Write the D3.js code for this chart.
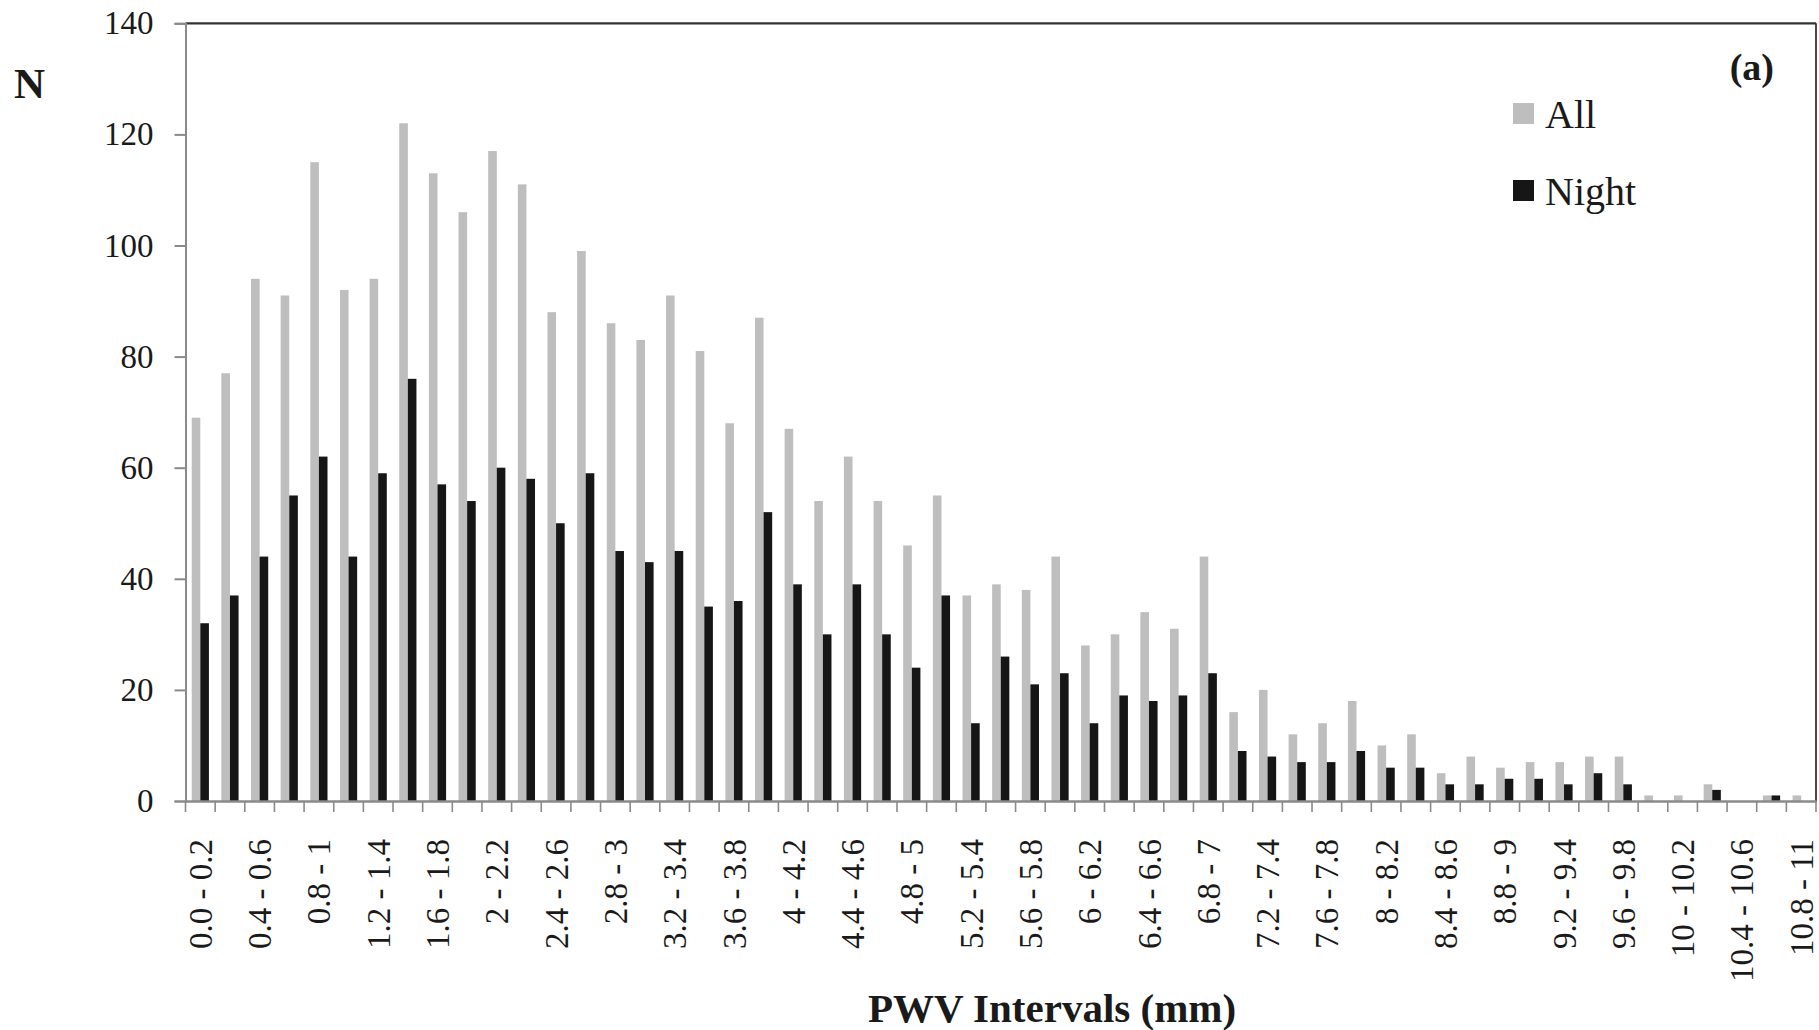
<!DOCTYPE html>
<html>
<head>
<meta charset="utf-8">
<script src="https://cdn.jsdelivr.net/npm/d3@7"></script>
<style>
  html, body { margin: 0; padding: 0; background: #fff; }
  svg { display: block; }
  text { font-family: "Liberation Serif", "Times New Roman", serif; fill: #1a1a1a; }
</style>
</head>
<body>
<svg id="chart" width="1819" height="1030"></svg>
<script>
// PWV interval bins (mm)
const categories = [
  "0.0 - 0.2", "0.2 - 0.4", "0.4 - 0.6", "0.6 - 0.8", "0.8 - 1",
  "1 - 1.2", "1.2 - 1.4", "1.4 - 1.6", "1.6 - 1.8", "1.8 - 2",
  "2 - 2.2", "2.2 - 2.4", "2.4 - 2.6", "2.6 - 2.8", "2.8 - 3",
  "3 - 3.2", "3.2 - 3.4", "3.4 - 3.6", "3.6 - 3.8", "3.8 - 4",
  "4 - 4.2", "4.2 - 4.4", "4.4 - 4.6", "4.6 - 4.8", "4.8 - 5",
  "5 - 5.2", "5.2 - 5.4", "5.4 - 5.6", "5.6 - 5.8", "5.8 - 6",
  "6 - 6.2", "6.2 - 6.4", "6.4 - 6.6", "6.6 - 6.8", "6.8 - 7",
  "7 - 7.2", "7.2 - 7.4", "7.4 - 7.6", "7.6 - 7.8", "7.8 - 8",
  "8 - 8.2", "8.2 - 8.4", "8.4 - 8.6", "8.6 - 8.8", "8.8 - 9",
  "9 - 9.2", "9.2 - 9.4", "9.4 - 9.6", "9.6 - 9.8", "9.8 - 10",
  "10 - 10.2", "10.2 - 10.4", "10.4 - 10.6", "10.6 - 10.8", "10.8 - 11"
];

// Number of measurements per bin
const allValues = [
  69, 77, 94, 91, 115, 92, 94, 122, 113, 106,
  117, 111, 88, 99, 86, 83, 91, 81, 68, 87,
  67, 54, 62, 54, 46, 55, 37, 39, 38, 44,
  28, 30, 34, 31, 44, 16, 20, 12, 14, 18,
  10, 12, 5, 8, 6, 7, 7, 8, 8, 1,
  1, 3, 0, 1, 1
];
const nightValues = [
  32, 37, 44, 55, 62, 44, 59, 76, 57, 54,
  60, 58, 50, 59, 45, 43, 45, 35, 36, 52,
  39, 30, 39, 30, 24, 37, 14, 26, 21, 23,
  14, 19, 18, 19, 23, 9, 8, 7, 7, 9,
  6, 6, 3, 3, 4, 4, 3, 5, 3, 0,
  0, 2, 0, 1, 0
];

const seriesNames = ["All", "Night"];
const seriesColors = ["#bdbebd", "#161616"];
const yTicks = [0, 20, 40, 60, 80, 100, 120, 140];

const svg = d3.select("#chart");
const plotLeft = 185.5, plotRight = 1816, plotTop = 23.3, plotBottom = 801;

const x = d3.scaleBand()
  .domain(categories)
  .range([plotLeft, plotRight])
  .paddingInner(0.42)
  .paddingOuter(0.21);

const xs = d3.scaleBand()
  .domain(seriesNames)
  .range([0, x.bandwidth()]);

const y = d3.scaleLinear().domain([0, 140]).range([plotBottom, plotTop]);

const rows = categories.map((c, i) => ({
  cat: c,
  values: [
    { key: "All", v: allValues[i] },
    { key: "Night", v: nightValues[i] }
  ]
}));

// Bars
const groups = svg.append("g").selectAll("g")
  .data(rows).join("g")
  .attr("transform", d => `translate(${x(d.cat)},0)`);

groups.selectAll("rect")
  .data(d => d.values).join("rect")
  .attr("x", d => xs(d.key))
  .attr("width", xs.bandwidth())
  .attr("y", d => y(d.v))
  .attr("height", d => y(0) - y(d.v))
  .attr("fill", (d, i) => seriesColors[i]);

// Frame: top and right edges
svg.append("line")
  .attr("x1", plotLeft).attr("x2", plotRight).attr("y1", plotTop).attr("y2", plotTop)
  .attr("stroke", "#333").attr("stroke-width", 2.2);
svg.append("line")
  .attr("x1", plotRight).attr("x2", plotRight).attr("y1", plotTop).attr("y2", plotBottom)
  .attr("stroke", "#333").attr("stroke-width", 1.8);

// Y axis
const yAxis = svg.append("g")
  .attr("transform", `translate(${plotLeft},0)`)
  .call(d3.axisLeft(y).tickValues(yTicks).tickSize(11).tickPadding(21));
yAxis.select(".domain").attr("stroke", "#8a8a8a").attr("stroke-width", 2);
yAxis.selectAll(".tick line").attr("stroke", "#8a8a8a").attr("stroke-width", 2);
yAxis.selectAll(".tick text")
  .style("font-family", "'Liberation Serif', serif")
  .style("font-size", "33px")
  .attr("fill", "#1a1a1a");

// X axis: labels on every other bin, ticks on bin boundaries
const step = x.step();
const boundaries = d3.range(categories.length + 1);
const boundaryX = i => i < categories.length
  ? x(categories[i]) - step * x.paddingInner() / 2
  : plotRight;
svg.append("g").selectAll("line")
  .data(boundaries).join("line")
  .attr("x1", boundaryX)
  .attr("x2", boundaryX)
  .attr("y1", plotBottom).attr("y2", plotBottom + 11)
  .attr("stroke", "#8a8a8a").attr("stroke-width", 1.6);

const xAxis = svg.append("g")
  .attr("transform", `translate(0,${plotBottom})`)
  .call(d3.axisBottom(x)
    .tickValues(categories.filter((d, i) => i % 2 === 0))
    .tickSize(0).tickPadding(0));
xAxis.select(".domain").attr("stroke", "#8a8a8a").attr("stroke-width", 2.4);
xAxis.selectAll(".tick text")
  .style("font-family", "'Liberation Serif', serif")
  .style("font-size", "33px")
  .attr("fill", "#1a1a1a")
  .attr("text-anchor", "end")
  .attr("transform", "rotate(-90)")
  .attr("x", -38)
  .attr("y", 0)
  .attr("dy", "0.35em");

// Axis titles
svg.append("text")
  .attr("x", 14).attr("y", 98)
  .style("font-size", "43px").style("font-weight", "bold")
  .text("N");

svg.append("text")
  .attr("x", 1052).attr("y", 1022)
  .attr("text-anchor", "middle")
  .style("font-size", "41px").style("font-weight", "bold")
  .text("PWV Intervals (mm)");

// Panel label
svg.append("text")
  .attr("x", 1774).attr("y", 80)
  .attr("text-anchor", "end")
  .style("font-size", "38px").style("font-weight", "bold")
  .text("(a)");

// Legend
const legend = svg.append("g").selectAll("g")
  .data(seriesNames).join("g")
  .attr("transform", (d, i) => `translate(1513,${103 + i * 77})`);
legend.append("rect")
  .attr("width", 21).attr("height", 21)
  .attr("fill", (d, i) => seriesColors[i]);
legend.append("text")
  .attr("x", 32).attr("y", 25)
  .style("font-size", "40px")
  .text(d => d);
</script>
</body>
</html>
